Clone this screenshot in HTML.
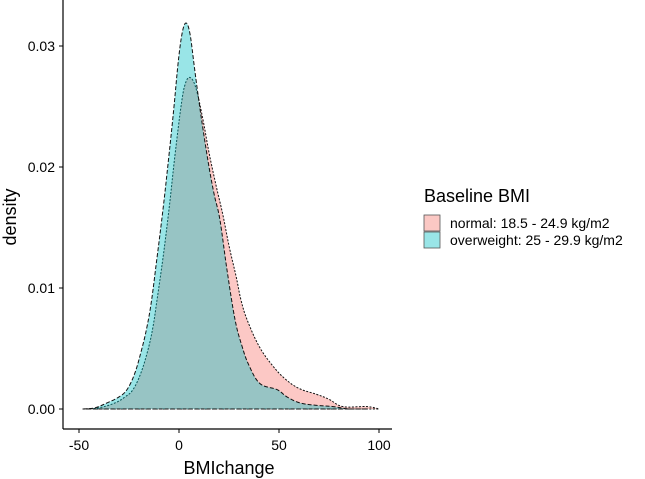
<!DOCTYPE html>
<html><head><meta charset="utf-8"><style>
html,body{margin:0;padding:0;background:#fff;}
svg{display:block;font-family:"Liberation Sans",sans-serif;}
</style></head><body>
<svg id="chart" width="645" height="479" viewBox="0 0 645 479">
<g id="plot"></g>
<g id="axes"></g>
<text x="10" y="217" transform="rotate(-90 10 217)" text-anchor="middle" dominant-baseline="central" font-size="18" fill="#000">density</text>
<text x="229" y="474" text-anchor="middle" font-size="18" fill="#000">BMIchange</text>
<g>
<text x="424" y="202" font-size="18" fill="#000">Baseline BMI</text>
<rect x="424" y="215" width="16" height="16" fill="rgb(251,200,196)" stroke="#555" stroke-width="0.8"/>
<rect x="424" y="232" width="16" height="16" fill="rgb(153,229,231)" stroke="#555" stroke-width="0.8"/>
<text x="450" y="228" font-size="14" fill="#000">normal: 18.5 - 24.9 kg/m2</text>
<text x="450" y="245" font-size="14" fill="#000">overweight: 25 - 29.9 kg/m2</text>
</g>
</svg>
<script>
const normalX = [-48,-40,-32,-27,-23,-19,-15.5,-13,-11,-8,-5,-2,1,3,5.5,8.5,12,15,18.5,22,25,28.5,31,34,40,46.7,53,60,69,75,82,94,100];
const normalY = [0,0.0001,0.0005,0.001,0.0016,0.003,0.0049,0.0068,0.009,0.0125,0.0165,0.021,0.025,0.0268,0.0274,0.0265,0.0239,0.0212,0.0185,0.016,0.0135,0.011,0.009,0.0074,0.0052,0.0036,0.0025,0.0017,0.0012,0.0008,0.0002,0.0002,0];
const overX = [-48,-42,-36,-30,-26,-22,-18.7,-16,-13.7,-11,-8,-5,-2.5,-0.5,1.5,3.5,5.5,7.5,9.5,11.3,14.5,17.5,20.5,24,28,31.5,35,40.5,49,54,60.5,69,77,85.5,94];
const overY = [0,0.0001,0.0005,0.001,0.0016,0.003,0.0049,0.0068,0.009,0.0125,0.0165,0.021,0.025,0.0285,0.031,0.0319,0.031,0.0285,0.026,0.0239,0.0205,0.0178,0.0156,0.0115,0.0074,0.0052,0.0036,0.0021,0.0016,0.001,0.0005,0.0003,0.0002,0,0];
const xTicks = [-50,0,50,100];
const yTicks = [0,0.01,0.02,0.03];
const yTickLabels = ["0.00","0.01","0.02","0.03"];

const NS="http://www.w3.org/2000/svg";
const xs = v => 179 + v*2;
const ys = v => 409 - v*12100;
const plot=document.getElementById('plot'), axes=document.getElementById('axes');
function mk(tag, attrs, parent){const e=document.createElementNS(NS,tag);for(const k in attrs)e.setAttribute(k,attrs[k]);parent.appendChild(e);return e;}
function area(X,Y,fill,dash,name){
  const P=X.map((x,i)=>[xs(x),ys(Y[i])]);
  let d='M'+xs(X[0])+','+ys(0)+' L'+P[0][0].toFixed(1)+','+P[0][1].toFixed(1);
  const t=0.18;
  for(let i=0;i<P.length-1;i++){
    const p0=P[Math.max(0,i-1)],p1=P[i],p2=P[i+1],p3=P[Math.min(P.length-1,i+2)];
    const c1x=p1[0]+(p2[0]-p0[0])*t, c1y=p1[1]+(p2[1]-p0[1])*t;
    const c2x=p2[0]-(p3[0]-p1[0])*t, c2y=p2[1]-(p3[1]-p1[1])*t;
    d+=' C'+c1x.toFixed(1)+','+Math.min(409,c1y).toFixed(1)+' '+c2x.toFixed(1)+','+Math.min(409,c2y).toFixed(1)+' '+p2[0].toFixed(1)+','+p2[1].toFixed(1);
  }
  d+=' L'+xs(X[X.length-1])+','+ys(0)+' Z';
  const p=mk('path',{d:d,fill:fill,'fill-opacity':0.4,stroke:'#111','stroke-width':1,'stroke-dasharray':dash,'stroke-linejoin':'round'},plot);
  
  
}
area(normalX,normalY,'#F8766D','2,1.5','density-normal');
area(overX,overY,'#00BFC4','4,2','density-overweight');

const ya=mk('line',{x1:63,y1:0,x2:63,y2:429,stroke:'#000','stroke-width':1.2},axes);


const xa=mk('line',{x1:63,y1:429,x2:392,y2:429,stroke:'#000','stroke-width':1.2},axes);


xTicks.forEach(v=>{
  const t=mk('line',{x1:xs(v),y1:429,x2:xs(v),y2:433,stroke:'#000','stroke-width':1},axes);
  
  
  const l=mk('text',{x:xs(v),y:450,'text-anchor':'middle','font-size':14,fill:'#000'},axes);
  l.textContent=v;
  
  
});
yTicks.forEach((v,i)=>{
  const t=mk('line',{x1:59,y1:ys(v),x2:63,y2:ys(v),stroke:'#000','stroke-width':1},axes);
  
  
  const l=mk('text',{x:55,y:ys(v)+5,'text-anchor':'end','font-size':14,fill:'#000'},axes);
  l.textContent=yTickLabels[i];
  
  
});
</script>
</body></html>
